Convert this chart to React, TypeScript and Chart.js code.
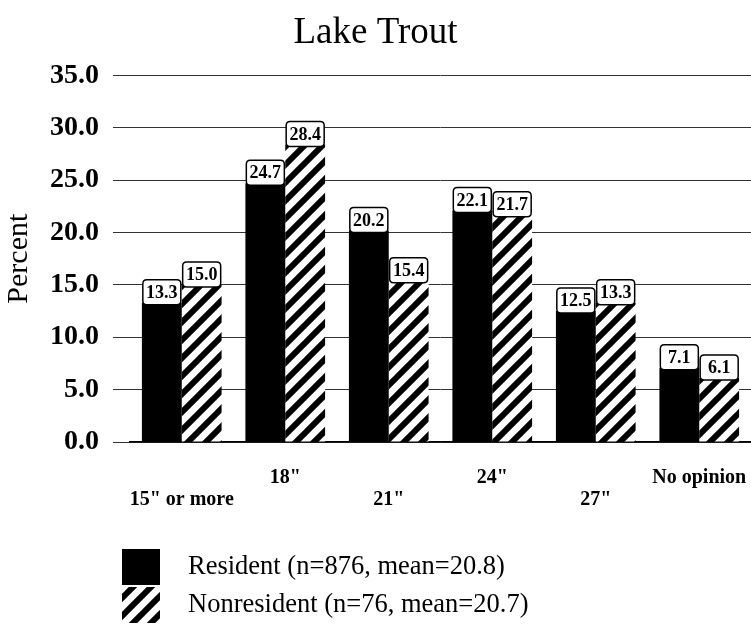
import React, { useEffect, useRef } from "react";
import { Chart, registerables } from "chart.js";

Chart.register(...registerables);

const chartTitle = "Lake Trout";
const yAxisTitle = "Percent";
const categories: string[][] = [
  ["", '15" or more'],
  ['18"', ""],
  ["", '21"'],
  ['24"', ""],
  ["", '27"'],
  ["No opinion", ""],
];
const residentLabel = "Resident (n=876, mean=20.8)";
const nonresidentLabel = "Nonresident (n=76, mean=20.7)";
const residentValues = [13.3, 24.7, 20.2, 22.1, 12.5, 7.1];
const nonresidentValues = [15.0, 28.4, 15.4, 21.7, 13.3, 6.1];
const yMin = 0;
const yMax = 35;
const yStep = 5;

const SERIF = '"Liberation Serif", "Times New Roman", Times, serif';

function makeHatch(): CanvasPattern | string {
  const s = 18;
  const c = document.createElement("canvas");
  c.width = s;
  c.height = s;
  const ctx = c.getContext("2d");
  if (!ctx) return "#000";
  ctx.fillStyle = "#fff";
  ctx.fillRect(0, 0, s, s);
  ctx.strokeStyle = "#000";
  ctx.lineWidth = 6;
  ctx.lineCap = "square";
  for (const off of [-s, 0, s]) {
    ctx.beginPath();
    ctx.moveTo(off, s);
    ctx.lineTo(off + s, 0);
    ctx.stroke();
  }
  const p = ctx.createPattern(c, "repeat");
  return p || "#000";
}

function roundRect(ctx: CanvasRenderingContext2D, x: number, y: number, w: number, h: number, r: number) {
  ctx.beginPath();
  ctx.moveTo(x + r, y);
  ctx.lineTo(x + w - r, y);
  ctx.quadraticCurveTo(x + w, y, x + w, y + r);
  ctx.lineTo(x + w, y + h - r);
  ctx.quadraticCurveTo(x + w, y + h, x + w - r, y + h);
  ctx.lineTo(x + r, y + h);
  ctx.quadraticCurveTo(x, y + h, x, y + h - r);
  ctx.lineTo(x, y + r);
  ctx.quadraticCurveTo(x, y, x + r, y);
  ctx.closePath();
}

const valueLabelPlugin = {
  id: "valueLabels",
  afterDatasetsDraw(chart: any) {
    const ctx: CanvasRenderingContext2D = chart.ctx;
    ctx.save();
    chart.data.datasets.forEach((ds: any, di: number) => {
      const meta = chart.getDatasetMeta(di);
      meta.data.forEach((bar: any, i: number) => {
        const v = ds.data[i] as number;
        const w = 38;
        const h = 25;
        const x = bar.x - w / 2;
        const y = bar.y - h + 2;
        roundRect(ctx, x, y, w, h, 4);
        ctx.fillStyle = "#fff";
        ctx.fill();
        ctx.lineWidth = 1.5;
        ctx.strokeStyle = "#000";
        ctx.stroke();
        ctx.fillStyle = "#000";
        ctx.font = `bold 18px ${SERIF}`;
        ctx.textAlign = "center";
        ctx.textBaseline = "middle";
        ctx.fillText(v.toFixed(1), bar.x, y + h / 2 + 1);
      });
    });
    ctx.restore();
  },
};

const customLegendPlugin = {
  id: "customLegend",
  afterDraw(chart: any) {
    const ctx: CanvasRenderingContext2D = chart.ctx;
    const H = chart.height;
    ctx.save();
    const rows = chart.data.datasets.map((ds: any, i: number) => ({
      fill: ds.backgroundColor,
      text: ds.label,
      y: H - 64 + i * 38,
    }));
    rows.forEach((r: any) => {
      ctx.fillStyle = r.fill;
      ctx.fillRect(122, r.y - 18, 38, 36);
      ctx.fillStyle = "#000";
      ctx.font = `26.5px ${SERIF}`;
      ctx.textAlign = "left";
      ctx.textBaseline = "middle";
      ctx.fillText(r.text, 188, r.y);
    });
    ctx.restore();
  },
};

export default function App() {
  const ref = useRef<HTMLCanvasElement | null>(null);

  useEffect(() => {
    document.body.style.margin = "0";
    if (!ref.current) return;
    const hatch = makeHatch();
    const chart = new Chart(ref.current, {
      type: "bar",
      data: {
        labels: categories,
        datasets: [
          {
            label: residentLabel,
            data: residentValues,
            backgroundColor: "#000",
            borderWidth: 0,
            barPercentage: 1,
            categoryPercentage: 0.77,
          },
          {
            label: nonresidentLabel,
            data: nonresidentValues,
            backgroundColor: hatch as any,
            borderWidth: 0,
            barPercentage: 1,
            categoryPercentage: 0.77,
          },
        ],
      },
      options: {
        animation: false,
        responsive: true,
        maintainAspectRatio: false,
        layout: { padding: { left: 0, right: 0, top: 0, bottom: 117 } },
        plugins: {
          legend: { display: false },
          tooltip: { enabled: false },
          title: {
            display: true,
            text: chartTitle,
            color: "#000",
            font: { family: SERIF, size: 37, weight: "normal" },
            padding: { top: 11, bottom: 20 },
          },
        },
        scales: {
          x: {
            grid: {
              display: true,
              drawOnChartArea: false,
              drawTicks: true,
              tickLength: 22,
              tickColor: "rgba(0,0,0,0)",
            },
            border: { display: true, color: "#000", width: 1.5 },
            ticks: {
              color: "#000",
              font: { family: SERIF, size: 20, weight: "bold", lineHeight: 1.1 },
              padding: 3,
              maxRotation: 0,
              autoSkip: false,
            },
          },
          y: {
            min: yMin,
            max: yMax,
            grid: { color: "#333", lineWidth: 1, tickLength: 17, drawTicks: true },
            border: { display: false },
            ticks: {
              stepSize: yStep,
              color: "#000",
              padding: 14,
              font: { family: SERIF, size: 28, weight: "bold" },
              callback: (v: any) => Number(v).toFixed(1),
            },
            title: {
              display: true,
              text: yAxisTitle,
              color: "#000",
              font: { family: SERIF, size: 30, weight: "normal", lineHeight: 1 },
              padding: { top: 4, bottom: 2 },
            },
          },
        },
      },
      plugins: [valueLabelPlugin, customLegendPlugin],
    });
    return () => chart.destroy();
  }, []);

  return (
    <div style={{ width: 751, height: 631, position: "relative" }}>
      <canvas ref={ref} />
    </div>
  );
}
